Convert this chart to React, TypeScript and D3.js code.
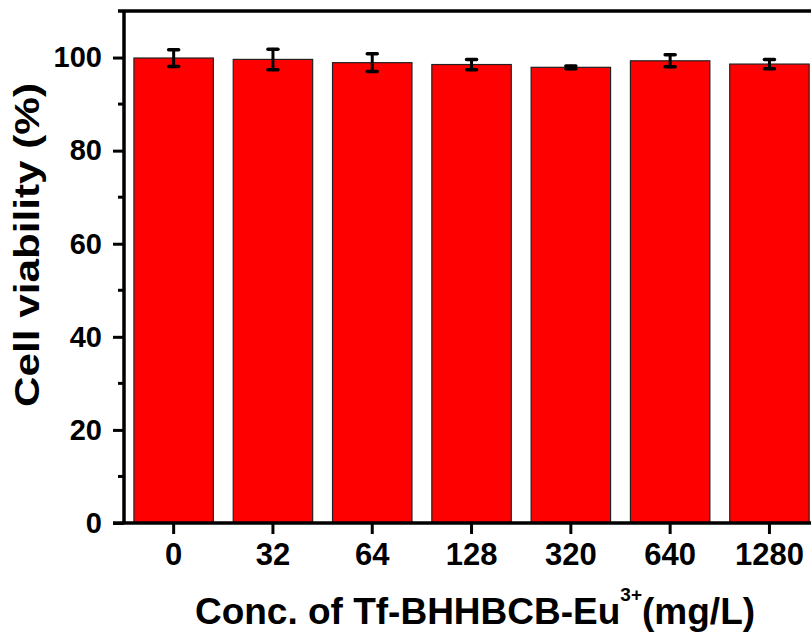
import React, { useEffect, useRef } from 'react'
import * as d3 from 'd3'

const categories = ['0', '32', '64', '128', '320', '640', '1280']
const viability = [99.9, 99.6, 98.9, 98.5, 97.9, 99.3, 98.6]
const errors = [1.8, 2.2, 1.9, 1.1, 0.3, 1.3, 1.0]
const yTicks = [0, 20, 40, 60, 80, 100]
const yMinorTicks = [10, 30, 50, 70, 90]

const W = 811
const H = 639
const FONT = '"Liberation Sans", Arial, sans-serif'

export default function App () {
  const ref = useRef<SVGSVGElement>(null)

  useEffect(() => {
    const svg = d3.select(ref.current)
    svg.selectAll('*').remove()

    const left = 124
    const bottom = 523
    const top = 11

    const x = d3.scaleBand()
      .domain(categories)
      .range([left, left + 7 * 99.3])
      .paddingInner(0.2)
      .paddingOuter(0.1)

    const y = d3.scaleLinear().domain([0, 110]).range([bottom, top])

    const data = categories.map((c, i) => ({ c, v: viability[i], e: errors[i] }))

    // bars
    svg.append('g')
      .selectAll('rect')
      .data(data)
      .enter().append('rect')
      .attr('x', d => x(d.c)!)
      .attr('y', d => y(d.v))
      .attr('width', x.bandwidth())
      .attr('height', d => y(0) - y(d.v))
      .attr('fill', '#ff0000')
      .attr('stroke', '#222')
      .attr('stroke-width', 1.2)

    // error bars
    const eb = svg.append('g').attr('stroke', '#000').attr('stroke-linecap', 'round')
    const cx = (d: any) => x(d.c)! + x.bandwidth() / 2
    eb.selectAll('line.v')
      .data(data)
      .enter().append('line')
      .attr('class', 'v')
      .attr('x1', cx).attr('x2', cx)
      .attr('y1', d => y(d.v + d.e)).attr('y2', d => y(d.v - d.e))
      .attr('stroke-width', 3)
    eb.selectAll('line.ct')
      .data(data)
      .enter().append('line')
      .attr('class', 'ct')
      .attr('x1', d => cx(d) - 5).attr('x2', d => cx(d) + 5)
      .attr('y1', d => y(d.v + d.e)).attr('y2', d => y(d.v + d.e))
      .attr('stroke-width', 3.5)
    eb.selectAll('line.cb')
      .data(data)
      .enter().append('line')
      .attr('class', 'cb')
      .attr('x1', d => cx(d) - 5).attr('x2', d => cx(d) + 5)
      .attr('y1', d => y(d.v - d.e)).attr('y2', d => y(d.v - d.e))
      .attr('stroke-width', 3.5)

    // y axis
    const yAxis = svg.append('g')
      .attr('transform', 'translate(' + left + ',0)')
      .call(d3.axisLeft(y).tickValues(yTicks).tickSize(11).tickSizeOuter(0).tickPadding(11))
    yAxis.select('.domain').remove()
    yAxis.selectAll('.tick line').attr('stroke-width', 3)
    yAxis.selectAll('.tick text')
      .attr('font-family', FONT).attr('font-weight', 'bold').attr('font-size', 29).attr('fill', '#000')

    svg.append('g')
      .selectAll('line')
      .data(yMinorTicks)
      .enter().append('line')
      .attr('x1', left - 6).attr('x2', left)
      .attr('y1', d => y(d)).attr('y2', d => y(d))
      .attr('stroke', '#000').attr('stroke-width', 3)

    // x axis
    const xAxis = svg.append('g')
      .attr('transform', 'translate(0,' + bottom + ')')
      .call(d3.axisBottom(x).tickSize(11).tickSizeOuter(0).tickPadding(9))
    xAxis.select('.domain').remove()
    xAxis.selectAll('.tick line').attr('stroke-width', 3)
    xAxis.selectAll('.tick text')
      .attr('font-family', FONT).attr('font-weight', 'bold').attr('font-size', 31).attr('fill', '#000')

    // frame lines
    svg.append('line')
      .attr('x1', left).attr('x2', left).attr('y1', top).attr('y2', bottom)
      .attr('stroke', '#000').attr('stroke-width', 3.5)
    svg.append('line')
      .attr('x1', left - 11).attr('x2', W).attr('y1', bottom).attr('y2', bottom)
      .attr('stroke', '#000').attr('stroke-width', 3.5)
    svg.append('line')
      .attr('x1', left - 6).attr('x2', W).attr('y1', top).attr('y2', top)
      .attr('stroke', '#000').attr('stroke-width', 3.5)

    // axis titles
    svg.append('text')
      .attr('transform', 'translate(39,245) rotate(-90)')
      .attr('text-anchor', 'middle')
      .attr('font-family', FONT).attr('font-weight', 'bold').attr('font-size', 35)
      .attr('textLength', 324).attr('lengthAdjust', 'spacingAndGlyphs')
      .text('Cell viability (%)')

    const xt = svg.append('text')
      .attr('x', 475).attr('y', 624)
      .attr('text-anchor', 'middle')
      .attr('font-family', FONT).attr('font-weight', 'bold').attr('font-size', 37)
    xt.append('tspan').text('Conc. of Tf-BHHBCB-Eu')
    xt.append('tspan').attr('font-size', 19).attr('dy', -23).text('3+')
    xt.append('tspan').attr('dy', 23).text('(mg/L)')
  }, [])

  return (
    <svg ref={ref} width={W} height={H}
      style={{ position: 'absolute', left: 0, top: 0, background: '#fff' }} />
  )
}
